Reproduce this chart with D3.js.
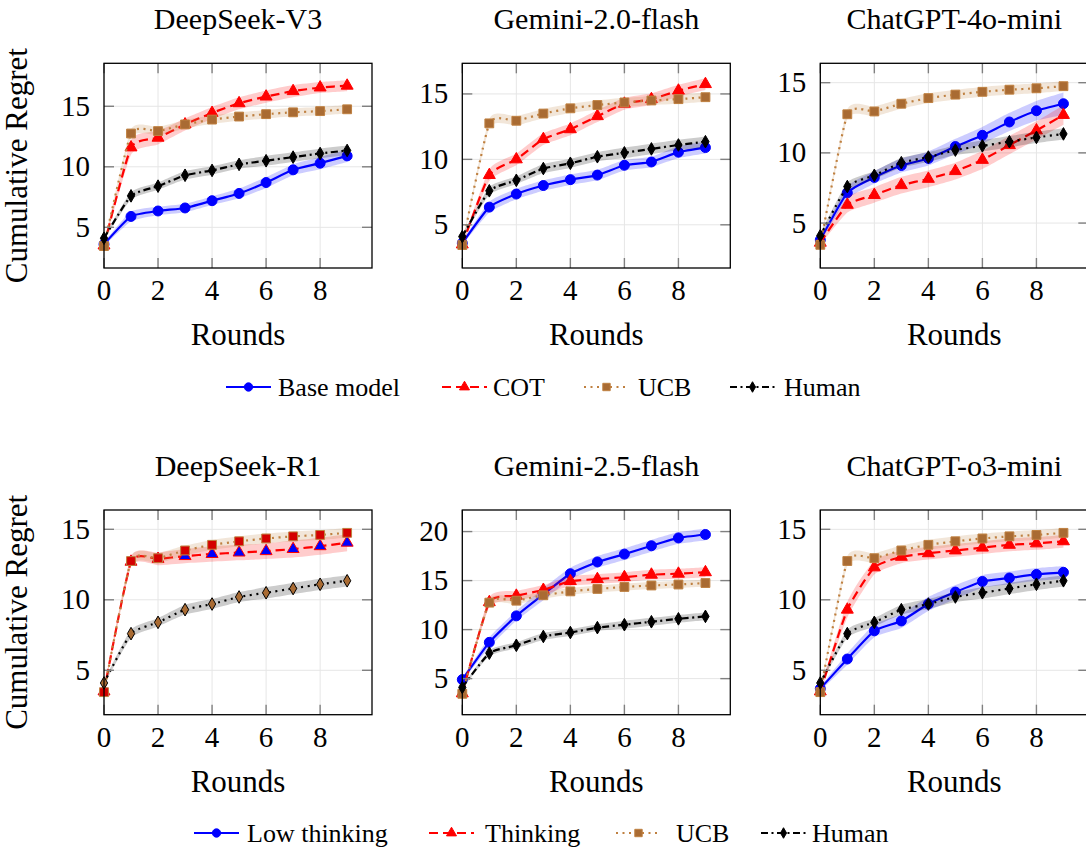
<!DOCTYPE html>
<html>
<head>
<meta charset="utf-8">
<script src="https://cdn.jsdelivr.net/npm/d3@7"></script>
<style>
body { margin: 0; background: #fff; }
svg { display: block; font-family: "Liberation Serif", "Times New Roman", serif; }
</style>
</head>
<body>
<svg id="chart" width="1086" height="850"></svg>
<script>
'use strict';

// ---- data ----
var rounds = [0, 1, 2, 3, 4, 5, 6, 7, 8, 9];
var xTicks = [0, 2, 4, 6, 8];
var yTicksLow = [5, 10, 15];
var yTicksHigh = [5, 10, 15, 20];

// baselines shared by every panel
var ucbMean = [3.45, 12.75, 12.95, 13.5, 13.9, 14.15, 14.35, 14.5, 14.6, 14.75];
var ucbErr = [0.15, 0.35, 0.35, 0.35, 0.35, 0.35, 0.35, 0.35, 0.35, 0.35];
var humanMean = [4.1, 7.6, 8.4, 9.3, 9.7, 10.2, 10.5, 10.8, 11.1, 11.35];
var humanErr = [0.15, 0.3, 0.3, 0.35, 0.35, 0.35, 0.4, 0.4, 0.4, 0.4];

var v3Base = [3.6, 5.9, 6.35, 6.6, 7.2, 7.8, 8.7, 9.75, 10.3, 10.9];
var v3BaseErr = [0.15, 0.4, 0.35, 0.35, 0.35, 0.4, 0.45, 0.45, 0.5, 0.5];
var v3Cot = [3.5, 11.6, 12.4, 13.5, 14.45, 15.25, 15.8, 16.25, 16.55, 16.7];
var v3CotErr = [0.15, 0.6, 0.55, 0.5, 0.5, 0.5, 0.5, 0.5, 0.45, 0.45];

var g20Base = [3.6, 6.35, 7.35, 8.0, 8.45, 8.8, 9.55, 9.8, 10.55, 10.9];
var g20BaseErr = [0.15, 0.4, 0.4, 0.4, 0.4, 0.4, 0.4, 0.4, 0.45, 0.45];
var g20Cot = [3.5, 8.8, 10.0, 11.55, 12.3, 13.3, 14.25, 14.6, 15.25, 15.75];
var g20CotErr = [0.15, 0.45, 0.45, 0.45, 0.45, 0.45, 0.45, 0.45, 0.45, 0.45];

var o4Base = [3.8, 7.15, 8.25, 9.1, 9.6, 10.45, 11.25, 12.2, 13.0, 13.5];
var o4BaseErr = [0.15, 0.45, 0.45, 0.5, 0.5, 0.55, 0.6, 0.65, 0.7, 0.8];
var o4Cot = [3.6, 6.3, 7.0, 7.7, 8.15, 8.7, 9.5, 10.55, 11.6, 12.7];
var o4CotErr = [0.15, 0.55, 0.55, 0.6, 0.6, 0.6, 0.65, 0.65, 0.65, 0.7];

var r1Thinking = [3.5, 12.7, 12.9, 13.1, 13.25, 13.35, 13.45, 13.6, 13.8, 14.05];
var r1ThinkingErr = [0.15, 0.35, 0.45, 0.5, 0.55, 0.55, 0.55, 0.6, 0.6, 0.6];

var g25Low = [4.9, 8.7, 11.4, 13.6, 15.7, 16.9, 17.7, 18.55, 19.35, 19.7];
var g25LowErr = [0.2, 0.5, 0.5, 0.6, 0.6, 0.6, 0.6, 0.6, 0.6, 0.6];
var g25Thinking = [3.5, 12.8, 13.45, 14.05, 14.95, 15.15, 15.35, 15.6, 15.7, 15.85];
var g25ThinkingErr = [0.15, 0.5, 0.5, 0.5, 0.5, 0.5, 0.5, 0.5, 0.5, 0.5];

var o3Low = [3.7, 5.8, 7.8, 8.5, 9.7, 10.55, 11.3, 11.55, 11.8, 11.95];
var o3LowErr = [0.15, 0.4, 0.45, 0.5, 0.5, 0.5, 0.45, 0.45, 0.45, 0.45];
var o3Thinking = [3.5, 9.3, 12.3, 13.05, 13.3, 13.5, 13.7, 13.9, 14.0, 14.15];
var o3ThinkingErr = [0.15, 0.55, 0.5, 0.45, 0.45, 0.45, 0.45, 0.45, 0.45, 0.45];

var legendTop = ['Base model', 'COT', 'UCB', 'Human'];
var legendBottom = ['Low thinking', 'Thinking', 'UCB', 'Human'];

// ---- styles ----
var BLUE = '#0000ff', RED = '#ff0000', BROWN = '#bf8040', BLACK = '#000000';
var DASHED = '9,5', DOTTED = '2,4.5', DASHDOT = '7,3.5,2,3.5';

var styles = {
        blue:  {color: BLUE,  dash: null,    mark: 'circle',   fill: BLUE},
        red:   {color: RED,   dash: DASHED,  mark: 'triangle', fill: RED},
        brown: {color: BROWN, dash: DOTTED,  mark: 'square',   fill: '#a96b33'},
        black: {color: BLACK, dash: DASHDOT, mark: 'diamond',  fill: BLACK}
};

function S(key, mean, err, extra) {
        return Object.assign({}, styles[key], {mean: mean, err: err}, extra || {});
}

var colLeft = [104, 462.3, 820.3];
var rowTop = [63.3, 510];
var plotW = 268, plotH = 204.7;

var panels = [
        {title: 'DeepSeek-V3', col: 0, row: 0, yDomain: [1.64, 18.55], yTicks: yTicksLow,
         series: [S('blue', v3Base, v3BaseErr), S('red', v3Cot, v3CotErr), S('brown', ucbMean, ucbErr), S('black', humanMean, humanErr)]},
        {title: 'Gemini-2.0-flash', col: 1, row: 0, yDomain: [1.7, 17.34], yTicks: yTicksLow,
         series: [S('blue', g20Base, g20BaseErr), S('red', g20Cot, g20CotErr), S('brown', ucbMean, ucbErr), S('black', humanMean, humanErr)]},
        {title: 'ChatGPT-4o-mini', col: 2, row: 0, yDomain: [1.8, 16.38], yTicks: yTicksLow,
         series: [S('blue', o4Base, o4BaseErr), S('red', o4Cot, o4CotErr), S('brown', ucbMean, ucbErr), S('black', humanMean, humanErr, {dash: DOTTED})]},
        {title: 'DeepSeek-R1', col: 0, row: 1, yDomain: [1.85, 16.37], yTicks: yTicksLow,
         series: [S('red', r1Thinking, r1ThinkingErr, {fill: BLUE}), S('brown', ucbMean, ucbErr, {fill: '#d40000'}), S('black', humanMean, humanErr, {dash: DOTTED, fill: '#a96b33'})]},
        {title: 'Gemini-2.5-flash', col: 1, row: 1, yDomain: [1.32, 22.2], yTicks: yTicksHigh,
         series: [S('blue', g25Low, g25LowErr), S('red', g25Thinking, g25ThinkingErr), S('brown', ucbMean, ucbErr), S('black', humanMean, humanErr)]},
        {title: 'ChatGPT-o3-mini', col: 2, row: 1, yDomain: [1.85, 16.37], yTicks: yTicksLow,
         series: [S('blue', o3Low, o3LowErr), S('red', o3Thinking, o3ThinkingErr), S('brown', ucbMean, ucbErr), S('black', humanMean, humanErr, {dash: DOTTED})]}
];

var svg = d3.select('#chart');
var curve = d3.curveCardinal.tension(0.5);

function markPath(type, scale) {
        scale = scale || 1;
        var sym = {circle: d3.symbolCircle, triangle: d3.symbolTriangle, square: d3.symbolSquare, diamond: d3.symbolDiamond}[type];
        var size = {circle: 78, triangle: 62, square: 78, diamond: 46}[type];
        return d3.symbol().type(sym).size(size * scale)();
}

function drawPanel(p) {
        var left = colLeft[p.col], top = rowTop[p.row];
        var g = svg.append('g').attr('transform', 'translate(' + left + ',' + top + ')');

        var x = d3.scaleLinear().domain([0, 9.92]).range([0, plotW]);
        var y = d3.scaleLinear().domain(p.yDomain).range([plotH, 0]);

        // grid
        g.append('g').selectAll('line').data(xTicks).enter().append('line')
                .attr('x1', function(d) { return x(d); }).attr('x2', function(d) { return x(d); })
                .attr('y1', 0).attr('y2', plotH)
                .attr('stroke', '#e6e6e6').attr('stroke-width', 1);
        g.append('g').selectAll('line').data(p.yTicks).enter().append('line')
                .attr('y1', function(d) { return y(d); }).attr('y2', function(d) { return y(d); })
                .attr('x1', 0).attr('x2', plotW)
                .attr('stroke', '#e6e6e6').attr('stroke-width', 1);

        p.series.forEach(function(s) {
                var pts = rounds.map(function(r, i) { return {x: r, m: s.mean[i], e: s.err[i]}; });

                var area = d3.area().curve(curve)
                        .x(function(d) { return x(d.x); })
                        .y0(function(d) { return y(d.m - d.e); })
                        .y1(function(d) { return y(d.m + d.e); });
                g.append('path').datum(pts).attr('d', area)
                        .attr('fill', s.color).attr('fill-opacity', 0.2).attr('stroke', 'none');

                var line = d3.line().curve(curve)
                        .x(function(d) { return x(d.x); })
                        .y(function(d) { return y(d.m); });
                g.append('path').datum(pts).attr('d', line)
                        .attr('fill', 'none').attr('stroke', s.color).attr('stroke-width', 2.2)
                        .attr('stroke-dasharray', s.dash);

                g.append('g').selectAll('path').data(pts).enter().append('path')
                        .attr('d', markPath(s.mark))
                        .attr('transform', function(d) { return 'translate(' + x(d.x) + ',' + y(d.m) + ')'; })
                        .attr('fill', s.fill).attr('stroke', s.color).attr('stroke-width', 1);
        });

        // axes with inward ticks on all four sides
        var tickLen = 10;
        var ax = g.append('g').attr('stroke', '#808080').attr('stroke-width', 1.4);
        xTicks.forEach(function(t) {
                ax.append('line').attr('x1', x(t)).attr('x2', x(t)).attr('y1', plotH).attr('y2', plotH - tickLen);
                ax.append('line').attr('x1', x(t)).attr('x2', x(t)).attr('y1', 0).attr('y2', tickLen);
        });
        p.yTicks.forEach(function(t) {
                ax.append('line').attr('y1', y(t)).attr('y2', y(t)).attr('x1', 0).attr('x2', tickLen);
                ax.append('line').attr('y1', y(t)).attr('y2', y(t)).attr('x1', plotW).attr('x2', plotW - tickLen);
        });

        g.append('rect').attr('width', plotW).attr('height', plotH)
                .attr('fill', 'none').attr('stroke', '#000').attr('stroke-width', 1.3);

        g.append('g').selectAll('text').data(xTicks).enter().append('text')
                .attr('x', function(d) { return x(d); }).attr('y', plotH + 32)
                .attr('text-anchor', 'middle').attr('font-size', 29)
                .text(function(d) { return d; });
        g.append('g').selectAll('text').data(p.yTicks).enter().append('text')
                .attr('x', -14).attr('y', function(d) { return y(d) + 9.5; })
                .attr('text-anchor', 'end').attr('font-size', 29)
                .text(function(d) { return d; });

        g.append('text').attr('x', plotW / 2).attr('y', -34)
                .attr('text-anchor', 'middle').attr('font-size', 30).text(p.title);
        g.append('text').attr('x', plotW / 2).attr('y', plotH + 77)
                .attr('text-anchor', 'middle').attr('font-size', 31).text('Rounds');
        if (p.col === 0) {
                g.append('text')
                        .attr('transform', 'translate(-77,' + (plotH / 2) + ') rotate(-90)')
                        .attr('text-anchor', 'middle').attr('font-size', 31).text('Cumulative Regret');
        }
}

panels.forEach(drawPanel);

// ---- legends ----
function drawLegend(labels, lineStarts, textStarts, baseline) {
        var keys = ['blue', 'red', 'brown', 'black'];
        var g = svg.append('g');
        labels.forEach(function(label, i) {
                var s = styles[keys[i]];
                var cy = baseline - 9;
                var x0 = lineStarts[i], x1 = lineStarts[i] + 45;
                g.append('line').attr('x1', x0).attr('x2', x1).attr('y1', cy).attr('y2', cy)
                        .attr('stroke', s.color).attr('stroke-width', 2.2).attr('stroke-dasharray', s.dash);
                g.append('path').attr('d', markPath(s.mark, 0.7))
                        .attr('transform', 'translate(' + ((x0 + x1) / 2) + ',' + cy + ')')
                        .attr('fill', s.fill).attr('stroke', s.color).attr('stroke-width', 1);
                g.append('text').attr('x', textStarts[i]).attr('y', baseline)
                        .attr('font-size', 26).text(label);
        });
}

drawLegend(legendTop, [226, 442, 584, 730], [278, 493, 638, 784], 396);
drawLegend(legendBottom, [194, 429, 616, 761], [247, 485, 676, 812], 842);
</script>
</body>
</html>
